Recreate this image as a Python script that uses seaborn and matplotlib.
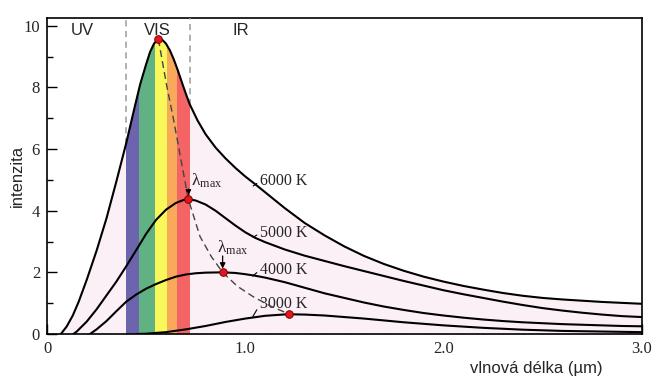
import numpy as np
import pandas as pd
import matplotlib
matplotlib.use('Agg')
import matplotlib.pyplot as plt
import seaborn as sns

# curves (x in um, intensity)
x_6000 = [0.07, 0.10, 0.13, 0.16, 0.20, 0.25, 0.30, 0.35, 0.40, 0.44, 0.47, 0.50, 0.52, 0.54,
          0.56, 0.58, 0.60, 0.62, 0.64, 0.66, 0.68, 0.70, 0.72, 0.76, 0.80, 0.85, 0.90, 0.95,
          1.00, 1.05, 1.10, 1.20, 1.30, 1.40, 1.50, 1.60, 1.70, 1.80, 1.90, 2.00, 2.10, 2.20,
          2.30, 2.40, 2.50, 2.60, 2.70, 2.80, 2.90, 3.00]
y_6000 = [0.0, 0.25, 0.6, 1.05, 1.75, 2.7, 3.75, 4.95, 6.2, 7.3, 8.1, 8.75, 9.15, 9.42,
          9.56, 9.55, 9.42, 9.2, 8.9, 8.55, 8.17, 7.8, 7.45, 6.92, 6.48, 6.05, 5.7, 5.39,
          5.11, 4.86, 4.6, 4.08, 3.6, 3.2, 2.84, 2.53, 2.27, 2.05, 1.86, 1.7, 1.56, 1.44,
          1.33, 1.24, 1.17, 1.12, 1.08, 1.04, 1.01, 0.98]

x_5000 = [0.133, 0.15, 0.20, 0.25, 0.30, 0.35, 0.40, 0.45, 0.50, 0.55, 0.60, 0.65, 0.69, 0.713,
          0.75, 0.80, 0.85, 0.90, 0.95, 1.00, 1.05, 1.10, 1.20, 1.30, 1.40, 1.50, 1.60, 1.70,
          1.80, 1.90, 2.00, 2.10, 2.20, 2.30, 2.40, 2.50, 2.60, 2.70, 2.80, 2.90, 3.00]
y_5000 = [0.0, 0.08, 0.4, 0.8, 1.25, 1.7, 2.2, 2.72, 3.25, 3.7, 4.03, 4.25, 4.35, 4.37,
          4.33, 4.2, 4.0, 3.76, 3.52, 3.3, 3.12, 2.98, 2.74, 2.54, 2.37, 2.2, 2.04, 1.88,
          1.72, 1.57, 1.42, 1.29, 1.17, 1.05, 0.94, 0.84, 0.76, 0.69, 0.63, 0.58, 0.55]

x_4000 = [0.217, 0.25, 0.30, 0.35, 0.40, 0.45, 0.50, 0.55, 0.60, 0.65, 0.70, 0.75, 0.80, 0.886,
          0.95, 1.00, 1.05, 1.10, 1.20, 1.30, 1.40, 1.50, 1.60, 1.70, 1.80, 1.90, 2.00, 2.10,
          2.20, 2.30, 2.40, 2.50, 2.60, 2.70, 2.80, 2.90, 3.00]
y_4000 = [0.0, 0.15, 0.42, 0.74, 1.05, 1.28, 1.47, 1.62, 1.75, 1.86, 1.93, 1.97, 1.99, 2.0,
          1.98, 1.94, 1.89, 1.83, 1.68, 1.5, 1.32, 1.17, 1.02, 0.89, 0.78, 0.68, 0.6, 0.53,
          0.47, 0.42, 0.38, 0.35, 0.32, 0.3, 0.28, 0.26, 0.25]

x_3000 = [0.45, 0.50, 0.60, 0.70, 0.80, 0.90, 1.00, 1.10, 1.20, 1.223, 1.30, 1.40, 1.50, 1.60,
          1.70, 1.80, 1.90, 2.00, 2.10, 2.20, 2.30, 2.40, 2.50, 2.60, 2.70, 2.80, 2.90, 3.00]
y_3000 = [0.0, 0.01, 0.06, 0.15, 0.26, 0.39, 0.5, 0.59, 0.635, 0.64, 0.63, 0.6, 0.55, 0.5,
          0.44, 0.38, 0.33, 0.28, 0.24, 0.2, 0.17, 0.14, 0.12, 0.1, 0.09, 0.08, 0.07, 0.06]

temps = ['6000 K', '5000 K', '4000 K', '3000 K']

# peaks and the Wien line through them
peak_x = [0.562, 0.713, 0.886, 1.223]
peak_y = [9.56, 4.37, 2.0, 0.64]
wien_x = [0.562, 0.604, 0.637, 0.713, 0.772, 0.83, 0.886, 0.96, 1.04, 1.13, 1.223]
wien_y = [9.56, 8.05, 7.0, 4.37, 3.16, 2.5, 2.0, 1.55, 1.21, 0.9, 0.64]

# visible spectrum bands
band_edges = [0.399, 0.466, 0.543, 0.604, 0.654, 0.722]
band_colors = ['#6c64ac', '#60b282', '#f8f85a', '#f8aa5a', '#f56464']

region_names = ['UV', 'VIS', 'IR']
region_x = [0.176, 0.557, 0.979]

xtick_vals = [0, 0.5, 1.0, 1.5, 2.0, 2.5, 3.0]
xtick_labels = ['0', '', '1.0', '', '2.0', '', '3.0']
ytick_vals = [0, 2, 4, 6, 8, 10]
ytick_labels = ['0', '2', '4', '6', '8', '10']

sns.set_theme(style='ticks')
plt.rcParams['font.family'] = ['Liberation Sans', 'DejaVu Sans']
plt.rcParams['mathtext.fontset'] = 'custom'
plt.rcParams['mathtext.rm'] = 'Liberation Serif'
plt.rcParams['mathtext.it'] = 'Liberation Serif:italic'

fig = plt.figure(figsize=(6.6, 3.82), dpi=100)
ax = fig.add_axes([47 / 660, 48 / 382, 594.7 / 660, 315.7 / 382])
ax.set_xlim(0, 3.0)
ax.set_ylim(0, 10.24)

# pink area under the 6000 K curve
pink = ax.fill_between(x_6000, y_6000, color='#fcf0f7', lw=0, zorder=1)
clip = pink.get_paths()[0]

# coloured bands, clipped to the curve
for lo, hi, c in zip(band_edges[:-1], band_edges[1:], band_colors):
    span = ax.axvspan(lo, hi, color=c, lw=0, zorder=2)
    span.set_clip_path(clip, ax.transData)

# dashed borders of the visible range
for xe in [band_edges[0], band_edges[-1]]:
    ax.plot([xe, xe], [np.interp(xe, x_6000, y_6000), 10.24], color='#9a9a9a',
            lw=1.1, ls=(0, (4, 3)), zorder=3)

# the curves
df = pd.concat([
    pd.DataFrame({'x': x_6000, 'y': y_6000, 'T': temps[0]}),
    pd.DataFrame({'x': x_5000, 'y': y_5000, 'T': temps[1]}),
    pd.DataFrame({'x': x_4000, 'y': y_4000, 'T': temps[2]}),
    pd.DataFrame({'x': x_3000, 'y': y_3000, 'T': temps[3]}),
])
sns.lineplot(data=df, x='x', y='y', hue='T', palette=['black'] * 4, estimator=None,
             sort=False, legend=False, lw=1.5, ax=ax, zorder=4)

# Wien displacement line and peak markers
ax.plot(wien_x, wien_y, color='#444444', lw=1.0, ls=(0, (5, 3)), zorder=5)
sns.scatterplot(x=peak_x, y=peak_y, color='#e3161b', edgecolor='#7a0000', s=30,
                linewidth=0.7, ax=ax, zorder=6, legend=False)

# curve labels with little leader lines
label_y = [4.96, 3.27, 2.08, 0.97]
leader_x = [1.04, 1.04, 1.038, 1.038]
leader_y = [4.80, 3.14, 1.88, 0.56]
for t, ly, lx0, ly0 in zip(temps, label_y, leader_x, leader_y):
    ax.annotate(t, xy=(lx0, ly0), xytext=(1.075, ly), va='center', ha='left',
                fontsize=11.5, family='Liberation Serif',
                arrowprops=dict(arrowstyle='-', lw=0.8, color='black',
                                relpos=(0, 0.5), shrinkA=0, shrinkB=0))

# lambda_max arrows
lam_text_x = [0.726, 0.859]
lam_text_y = [4.8, 2.63]
for px, py, tx, ty in zip(peak_x[1:3], peak_y[1:3], lam_text_x, lam_text_y):
    ax.text(tx, ty, r'$\mathrm{\lambda}_\mathrm{max}$', fontsize=12.5, ha='left', va='baseline')
    ax.annotate('', xy=(px, py + 0.12), xytext=(px, ty - 0.1),
                arrowprops=dict(arrowstyle='-|>', lw=0.9, color='black',
                                mutation_scale=8, shrinkA=0, shrinkB=0))

for name, rx in zip(region_names, region_x):
    ax.text(rx, 9.84, name, fontsize=12, ha='center', va='center')

ax.set_xticks(xtick_vals)
ax.set_xticklabels(xtick_labels, family='Liberation Serif', fontsize=12)
ax.set_xticks(np.arange(0, 3.01, 0.1), minor=True)
ax.set_yticks(ytick_vals)
ax.set_yticklabels(ytick_labels, family='Liberation Serif', fontsize=12)
ax.set_yticks(np.arange(0, 10.1, 1), minor=True)
ax.tick_params(which='major', direction='in', length=7, width=1, pad=5, color='black')
ax.tick_params(which='minor', direction='in', length=4, width=1, color='black')

for s in ax.spines.values():
    s.set_visible(True)
    s.set_linewidth(1.2)
    s.set_color('black')

ax.set_xlabel('vlnová délka (µm)', fontsize=12)
ax.xaxis.set_label_coords(0.822, -0.085)
ax.set_ylabel('intenzita', fontsize=12)
ax.yaxis.set_label_coords(-0.037, 0.5)

fig.savefig('out.png', dpi=100)
